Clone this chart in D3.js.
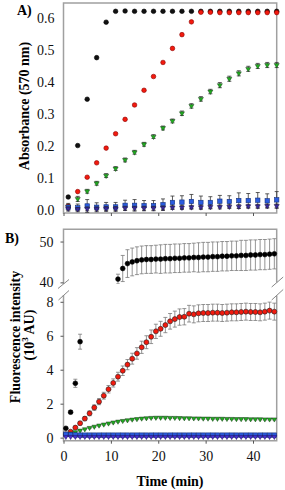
<html>
<head>
<script src="https://cdn.jsdelivr.net/npm/d3@7/dist/d3.min.js"></script>
<style>
  body { margin: 0; background: #fff; }
  text { font-family: "Liberation Serif", "Times New Roman", serif; }
</style>
</head>
<body>
<script>
// ---- panel A data: absorbance at 570 nm, every 2 min
let timesA = [1,3,5,7,9,11,13,15,17,19,21,23,25,27,29,31,33,35,37,39,41,43,45]
let blackA = [0.040,0.201,0.346,0.476,0.587,0.621,0.622,0.621,0.621,0.621,0.621,0.621,0.621,0.621,0.621,0.621,0.621,0.621,0.621,0.621,0.621,0.621,0.621]
let redA = [0.012,0.057,0.102,0.147,0.193,0.238,0.283,0.328,0.374,0.417,0.461,0.505,0.548,0.588,0.618,0.618,0.617,0.617,0.617,0.617,0.617,0.617,0.617]
let greenA = [0.010,0.034,0.058,0.083,0.107,0.129,0.156,0.180,0.205,0.229,0.256,0.278,0.302,0.325,0.347,0.370,0.390,0.410,0.427,0.441,0.450,0.453,0.453]
let greenErrA = [0.004,0.008,0.006,0.006,0.006,0.006,0.006,0.006,0.006,0.006,0.006,0.006,0.007,0.007,0.007,0.007,0.008,0.008,0.008,0.008,0.008,0.008,0.008]
let blueA = [0.008,0.006,0.012,0.008,0.009,0.009,0.014,0.014,0.013,0.013,0.016,0.023,0.024,0.026,0.023,0.023,0.027,0.026,0.029,0.029,0.030,0.028,0.031]
let blueErrA = [0.012,0.012,0.020,0.014,0.014,0.014,0.016,0.018,0.016,0.016,0.018,0.020,0.020,0.022,0.020,0.018,0.018,0.018,0.024,0.022,0.024,0.022,0.026]
let purpleA = [0.004,0.002,0.003,0.003,0.004,0.004,0.005,0.005,0.005,0.005,0.006,0.007,0.007,0.008,0.008,0.009,0.009,0.010,0.010,0.011,0.011,0.012,0.012]
let purpleErrA = [0.005,0.005,0.006,0.006,0.006,0.006,0.006,0.006,0.006,0.006,0.006,0.006,0.006,0.006,0.006,0.006,0.006,0.006,0.006,0.006,0.006,0.006,0.006]
let ticksA = [0,0.1,0.2,0.3,0.4,0.5,0.6]

// ---- panel B data: fluorescence intensity (10^3 AU), every 1 min
let timesB = [0.5,1.5,2.5,3.5,4.5,5.5,6.5,7.5,8.5,9.5,10.5,11.5,12.5,13.5,14.5,15.5,16.5,17.5,18.5,19.5,20.5,21.5,22.5,
              23.5,24.5,25.5,26.5,27.5,28.5,29.5,30.5,31.5,32.5,33.5,34.5,35.5,36.5,37.5,38.5,39.5,40.5,41.5,42.5,43.5,44.5]
let blackB = [0.55,1.5,3.2,5.65,null,null,null,null,null,null,null,40.8,43.4,44.6,45.0,45.3,45.5,45.6,45.6,45.7,45.7,45.8,45.8,
              45.9,45.9,46.0,46.0,46.1,46.1,46.2,46.2,46.3,46.3,46.4,46.4,46.5,46.5,46.6,46.6,46.7,46.7,46.8,46.8,46.9,47.0]
let blackErrB = [0.05,0.1,0.24,0.44,null,null,null,null,null,null,null,1.2,3.2,3.4,3.4,3.4,3.4,3.4,3.4,3.4,3.5,3.5,3.5,
                 3.5,3.5,3.5,3.5,3.5,3.6,3.6,3.6,3.6,3.6,3.6,3.6,3.6,3.6,3.7,3.7,3.7,3.7,3.7,3.7,3.7,3.7]
let redB = [0.2,0.35,0.59,0.85,1.12,1.43,1.77,2.12,2.47,2.85,3.22,3.59,3.94,4.3,4.65,4.96,5.32,5.62,5.94,6.26,6.41,6.63,6.85,
            6.98,7.1,7.12,7.3,7.26,7.32,7.34,7.34,7.36,7.36,7.34,7.36,7.38,7.38,7.4,7.42,7.4,7.4,7.38,7.42,7.48,7.42]
let redErrB = [0.05,0.06,0.08,0.1,0.12,0.14,0.16,0.18,0.2,0.22,0.24,0.26,0.28,0.3,0.32,0.34,0.36,0.38,0.4,0.42,0.44,0.45,0.46,
               0.47,0.48,0.48,0.49,0.5,0.5,0.5,0.5,0.5,0.5,0.5,0.5,0.5,0.5,0.5,0.5,0.5,0.5,0.5,0.5,0.5,0.5]
let greenB = [0.15,0.25,0.33,0.42,0.5,0.58,0.65,0.72,0.78,0.84,0.9,0.95,0.99,1.03,1.07,1.1,1.13,1.15,1.17,1.18,1.18,1.18,1.17,
              1.17,1.16,1.15,1.15,1.14,1.14,1.13,1.13,1.12,1.12,1.12,1.11,1.11,1.1,1.1,1.1,1.09,1.09,1.09,1.08,1.08,1.08]
let greenErrB = [0.02,0.03,0.03,0.03,0.03,0.04,0.04,0.04,0.04,0.04,0.04,0.04,0.04,0.04,0.04,0.04,0.04,0.04,0.04,0.04,0.04,0.04,0.04,
                 0.04,0.04,0.04,0.04,0.04,0.04,0.04,0.04,0.04,0.04,0.04,0.04,0.04,0.04,0.04,0.04,0.04,0.04,0.04,0.04,0.04,0.04]
let blueB = [0.2,0.18,0.16,0.15,0.15,0.15,0.15,0.15,0.15,0.15,0.15,0.15,0.15,0.15,0.15,0.15,0.15,0.15,0.15,0.15,0.15,0.15,0.15,
             0.15,0.15,0.15,0.15,0.15,0.15,0.15,0.15,0.15,0.15,0.15,0.15,0.15,0.15,0.15,0.15,0.15,0.15,0.15,0.15,0.15,0.15]
let purpleB = [0.05,0.05,0.05,0.05,0.05,0.05,0.05,0.05,0.05,0.05,0.05,0.05,0.05,0.05,0.05,0.05,0.05,0.05,0.05,0.05,0.05,0.05,0.05,
               0.05,0.05,0.05,0.05,0.05,0.05,0.05,0.05,0.05,0.05,0.05,0.05,0.05,0.05,0.05,0.05,0.05,0.05,0.05,0.05,0.05,0.05]
let ticksBUpper = [40,50]
let ticksBLower = [0,2,4,6,8]
let ticksTime = [0,10,20,30,40]

let w = 285
let h = 490
let left = 63.5
let right = 276.7
let frameColor = "#a0a0a0"

let svg = d3.select("body").append("svg").attr("width", w).attr("height", h)

let x_scale = d3.scaleLinear().domain([0,45]).range([left,right])
let yA = d3.scaleLinear().domain([-0.01,0.647]).range([213,3])
let yBu = d3.scaleLinear().domain([39.6,53]).range([284,229.3])
let yBl = d3.scaleLinear().domain([-0.18,8.4]).range([440.7,295])

let defs = svg.append("defs")
defs.append("clipPath").attr("id","clipBu").append("rect")
    .attr("x",40).attr("y",225).attr("width",245).attr("height",284-225)
defs.append("clipPath").attr("id","clipBl").append("rect")
    .attr("x",40).attr("y",295).attr("width",245).attr("height",150)

function triDown(size){
    return d3.symbol().type(d3.symbolTriangle).size(size)()
}

function drawSeries(g, xs, ys, errs, y_scale, opt){
    let pts = xs.map((t,i)=>({t:t, v:ys[i], e:errs ? errs[i] : null}))
                .filter(d=>d.v !== null)
    if (errs){
        let eg = g.append("g").attr("stroke", opt.errColor).attr("stroke-width", 0.8).attr("fill","none")
        pts.filter(d=>d.e !== null).forEach(d=>{
            let cx = x_scale(d.t)
            let y1 = y_scale(d.v - d.e), y2 = y_scale(d.v + d.e)
            eg.append("line").attr("x1",cx).attr("x2",cx).attr("y1",y1).attr("y2",y2)
            eg.append("line").attr("x1",cx-2).attr("x2",cx+2).attr("y1",y1).attr("y2",y1)
            eg.append("line").attr("x1",cx-2).attr("x2",cx+2).attr("y1",y2).attr("y2",y2)
        })
    }
    let mg = g.append("g")
    pts.forEach(d=>{
        let cx = x_scale(d.t), cy = y_scale(d.v)
        if (opt.shape === "circle"){
            mg.append("circle").attr("cx",cx).attr("cy",cy).attr("r",opt.r)
              .attr("fill",opt.fill).attr("stroke",opt.stroke).attr("stroke-width",0.6)
        } else if (opt.shape === "square"){
            mg.append("rect").attr("x",cx-opt.r).attr("y",cy-opt.r)
              .attr("width",opt.r*2).attr("height",opt.r*2)
              .attr("fill",opt.fill).attr("stroke",opt.stroke).attr("stroke-width",0.6)
        } else {
            mg.append("path").attr("d",triDown(opt.size))
              .attr("transform","translate("+cx+","+cy+") rotate(180)")
              .attr("fill",opt.fill).attr("stroke",opt.stroke).attr("stroke-width",0.5)
        }
    })
}

// ---------------- panel A ----------------
let gA = svg.append("g")
gA.append("rect").attr("x",left).attr("y",3).attr("width",right-left).attr("height",213-3)
  .attr("fill","none").attr("stroke",frameColor).attr("stroke-width",1.5)

let yAxisA = d3.axisLeft(yA).tickValues(ticksA).tickFormat(d3.format(".1f")).tickSize(0).tickPadding(9)
gA.append("g").attr("transform","translate("+left+",0)").call(yAxisA)
let xAxisA = d3.axisBottom(x_scale).tickValues(ticksTime).tickFormat("").tickSize(3)
gA.append("g").attr("transform","translate(0,213)").call(xAxisA)

drawSeries(gA, timesA, blackA, null, yA, {shape:"circle", r:2.3, fill:"#111", stroke:"#000"})
drawSeries(gA, timesA, redA, null, yA, {shape:"circle", r:2.3, fill:"#f21a0e", stroke:"#8a0000"})
drawSeries(gA, timesA, greenA, greenErrA, yA, {shape:"tri", size:11, fill:"#1fae1f", stroke:"#1a3a1a", errColor:"#333"})
drawSeries(gA, timesA, blueA, blueErrA, yA, {shape:"square", r:2.2, fill:"#2a5ce0", stroke:"#15307a", errColor:"#333"})
drawSeries(gA, timesA, purpleA, purpleErrA, yA, {shape:"tri", size:11, fill:"#3a2a9a", stroke:"#1a1040", errColor:"#333"})

gA.append("text").attr("x",17).attr("y",15).attr("font-weight","bold").attr("font-size",14).text("A)")
gA.append("text").attr("transform","translate(29,106) rotate(-90)").attr("text-anchor","middle")
  .attr("font-weight","bold").attr("font-size",14).text("Absorbance (570 nm)")

// ---------------- panel B ----------------
let gB = svg.append("g")
let fr = gB.append("g").attr("stroke",frameColor).attr("stroke-width",1.5).attr("fill","none")
fr.append("path").attr("d","M"+left+",284V229.3H"+right+"V282.4")
fr.append("path").attr("d","M"+left+",295V440.7H"+right+"V295.4")
// axis break marks
let br = gB.append("g").attr("stroke","#888").attr("stroke-width",1)
br.append("line").attr("x1",left-5.5).attr("y1",288.5).attr("x2",left+5.5).attr("y2",279.5)
br.append("line").attr("x1",left-5).attr("y1",300).attr("x2",left+5.5).attr("y2",290.5)
br.append("line").attr("x1",right-5).attr("y1",287).attr("x2",right+6.5).attr("y2",277)
br.append("line").attr("x1",right-5).attr("y1",300).attr("x2",right+6.5).attr("y2",289.5)

let yAxisBu = d3.axisLeft(yBu).tickValues(ticksBUpper).tickSize(3).tickPadding(7)
gB.append("g").attr("transform","translate("+left+",0)").call(yAxisBu)
let yAxisBl = d3.axisLeft(yBl).tickValues(ticksBLower).tickSize(3).tickPadding(7)
gB.append("g").attr("transform","translate("+left+",0)").call(yAxisBl)
let xAxisB = d3.axisBottom(x_scale).tickValues(ticksTime).tickSize(3).tickPadding(7)
gB.append("g").attr("transform","translate(0,440.7)").call(xAxisB)

let gBu = gB.append("g").attr("clip-path","url(#clipBu)")
let gBl = gB.append("g").attr("clip-path","url(#clipBl)")
let errGray = "#7a7a7a"
drawSeries(gBu, timesB, blackB, blackErrB, yBu, {shape:"circle", r:2.4, fill:"#000", stroke:"#000", errColor:errGray})
drawSeries(gBl, timesB, blackB, blackErrB, yBl, {shape:"circle", r:2.4, fill:"#000", stroke:"#000", errColor:errGray})
drawSeries(gBl, timesB, redB, redErrB, yBl, {shape:"circle", r:2.5, fill:"#f21a0e", stroke:"#222", errColor:errGray})
drawSeries(gBl, timesB, greenB, greenErrB, yBl, {shape:"tri", size:10, fill:"#1fae1f", stroke:"#1a3a1a", errColor:errGray})
drawSeries(gBl, timesB, blueB, null, yBl, {shape:"square", r:2.2, fill:"#2a5ce0", stroke:"#15307a"})
drawSeries(gBl, timesB, purpleB, null, yBl, {shape:"tri", size:10, fill:"#4a2ed0", stroke:"#1a1060"})

gB.append("text").attr("x",5).attr("y",243).attr("font-weight","bold").attr("font-size",14).text("B)")
gB.append("text").attr("transform","translate(20,337) rotate(-90)").attr("text-anchor","middle")
  .attr("font-weight","bold").attr("font-size",14).text("Fluorescence intensity")
let l2 = gB.append("text").attr("transform","translate(34,335) rotate(-90)").attr("text-anchor","middle")
  .attr("font-weight","bold").attr("font-size",14)
l2.append("tspan").text("(10")
l2.append("tspan").attr("font-size",9).attr("dy",-6).text("3")
l2.append("tspan").attr("dy",6).text(" AU)")
gB.append("text").attr("x",170).attr("y",486).attr("text-anchor","middle")
  .attr("font-weight","bold").attr("font-size",14).text("Time (min)")

// axis styling
svg.selectAll(".tick text").attr("font-size",14).attr("fill","#111")
   .style("font-family","'Liberation Serif','Times New Roman',serif")
svg.selectAll(".tick line").attr("stroke","#555")
svg.selectAll(".domain").remove()
</script>
</body>
</html>
